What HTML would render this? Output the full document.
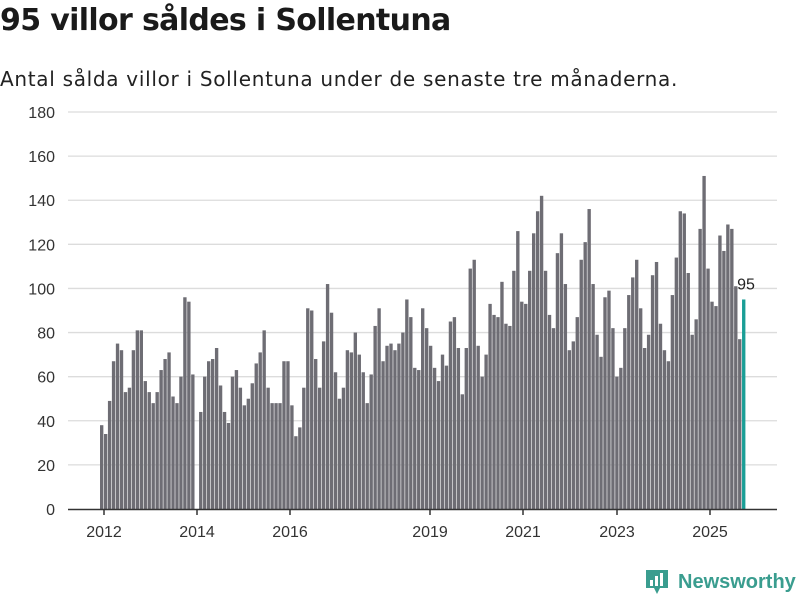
<!DOCTYPE html>
<html><head><meta charset="utf-8"><style>
body{margin:0;width:800px;height:600px;background:#fff;font-family:"Liberation Sans","DejaVu Sans",sans-serif;overflow:hidden;position:relative}
h1{position:absolute;left:0;top:3px;margin:0;font-family:"DejaVu Sans",sans-serif;font-size:30px;font-weight:bold;color:#1a1a1a;letter-spacing:-0.65px}
.sub{position:absolute;left:0;top:67px;font-family:"DejaVu Sans",sans-serif;font-size:20px;color:#222;letter-spacing:0.7px}
</style></head><body>
<h1>95 villor såldes i Sollentuna</h1>
<div class="sub">Antal sålda villor i Sollentuna under de senaste tre månaderna.</div>
<svg id="c" width="800" height="600" style="position:absolute;left:0;top:0"></svg>
<div style="position:absolute;left:644px;top:568px;display:flex;align-items:center">
<svg width="26" height="28"><path d="M2 2h22v18h-8l-3 6-3-6H2z" fill="#3a9d8f"/><rect x="6" y="12" width="3" height="6" fill="#fff"/><rect x="11" y="8" width="3" height="10" fill="#fff"/><rect x="16" y="5" width="3" height="13" fill="#fff"/></svg>
<span style="margin-left:8px;font-size:20px;font-weight:bold;color:#3a9d8f">Newsworthy</span></div>
<script>
const values=[38,34,49,67,75,72,53,55,72,81,81,58,
53,48,53,63,68,71,51,48,60,96,94,61,
null,44,60,67,68,73,56,44,39,60,63,55,47,50,57,66,71,81,
55,48,48,48,67,67,47,33,37,55,91,90,68,55,76,102,89,62,50,55,
72,71,80,70,62,48,61,83,91,67,74,75,72,75,80,95,87,64,63,91,
82,74,64,58,70,65,85,87,73,52,73,109,113,74,60,70,93,88,87,103,
84,83,108,126,94,93,108,125,135,142,108,88,82,116,125,102,72,76,87,113,
121,136,102,79,69,96,99,82,60,64,82,97,105,113,91,73,79,106,112,84,
72,67,97,114,135,134,107,79,86,127,151,109,94,92,124,117,129,127,101,77,95];
const yTicks=[0,20,40,60,80,100,120,140,160,180];
const xTickLabels=["2012","2014","2016","2019","2021","2023","2025"];
const xTickPos=[104,197,290,430,523,617,710];
const NS="http://www.w3.org/2000/svg";
const svg=document.getElementById('c');
const y0=509,yTop=112,x0=100,x1=746;
const y=v=>y0-(v/180)*(y0-yTop);
const step=(x1-x0)/values.length;
const x=i=>x0+i*step;
function el(t,a){const e=document.createElementNS(NS,t);for(const k in a)e.setAttribute(k,a[k]);svg.appendChild(e);return e;}
yTicks.forEach(v=>{
 if(v>0){const g=el('line',{x1:68,x2:777,y1:y(v),y2:y(v),stroke:'#dcdcdc','stroke-width':1.3});
 
 }
 const t=el('text',{x:55,y:y(v)+6,'text-anchor':'end','font-size':16,fill:'#333'});t.textContent=v;
 
 
});
values.forEach((v,i)=>{
 if(v==null)return;
 const last=i===values.length-1;
 const r=el('rect',{x:x(i),y:y(v),width:step-0.6,height:y0-y(v),fill:last?'#1a9e96':'#6e6d74'});
 
 
 if(last){const t=el('text',{x:x(i)+step/2+2,y:y(v)-10,'text-anchor':'middle','font-size':16,fill:'#222'});t.textContent=v;
 
 }
});
const ax=el('line',{x1:68,x2:777,y1:y0+0.5,y2:y0+0.5,stroke:'#333','stroke-width':1.5});


xTickLabels.forEach((l,i)=>{
 const tk=el('line',{x1:xTickPos[i],x2:xTickPos[i],y1:y0,y2:y0+6,stroke:'#333','stroke-width':1.5});
 
 
 const t=el('text',{x:xTickPos[i],y:537,'text-anchor':'middle','font-size':16,fill:'#333'});t.textContent=l;
 
 
});
</script>
</body></html>
